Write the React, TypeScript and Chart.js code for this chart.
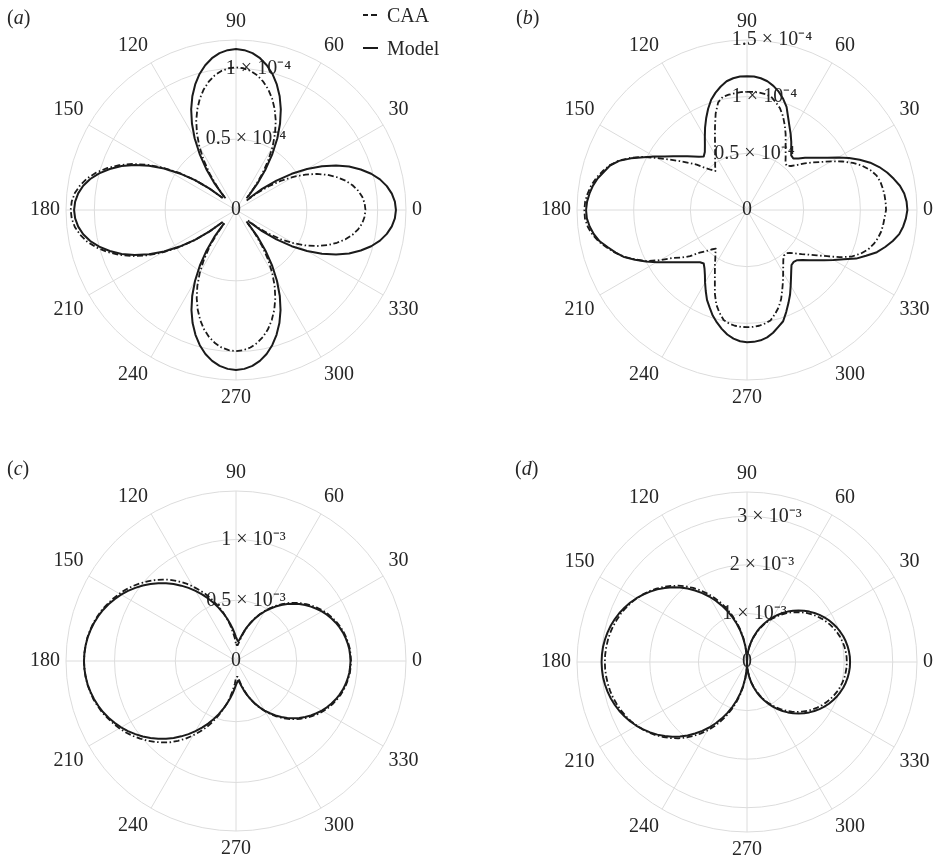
import React, { useEffect, useRef } from 'react';
import { Chart, registerables } from 'chart.js';

Chart.register(...registerables);

// Polar angle (degrees, counter-clockwise from the right) of every sample
const ANGLES = [
  0, 3, 6, 9, 12, 15, 18, 21, 24, 27, 30, 33, 36, 39, 42, 45, 48, 51, 54, 57, 60, 63, 66, 69, 72, 75, 78, 81, 84, 87,
  90, 93, 96, 99, 102, 105, 108, 111, 114, 117, 120, 123, 126, 129, 132, 135, 138, 141, 144, 147, 150, 153, 156, 159, 162, 165, 168, 171, 174, 177,
  180, 183, 186, 189, 192, 195, 198, 201, 204, 207, 210, 213, 216, 219, 222, 225, 228, 231, 234, 237, 240, 243, 246, 249, 252, 255, 258, 261, 264, 267,
  270, 273, 276, 279, 282, 285, 288, 291, 294, 297, 300, 303, 306, 309, 312, 315, 318, 321, 324, 327, 330, 333, 336, 339, 342, 345, 348, 351, 354, 357,
];

// (a) values in units of 1e-4
const A_MODEL = [
  1.129, 1.123, 1.106, 1.078, 1.039, 0.988, 0.926, 0.855, 0.773, 0.681, 0.579, 0.469, 0.353, 0.237, 0.124,
  null,
  0.125, 0.239, 0.356, 0.471, 0.583, 0.685, 0.778, 0.860, 0.932, 0.994, 1.045, 1.085, 1.113, 1.130,
  1.136,
  1.130, 1.113, 1.085, 1.045, 0.994, 0.932, 0.860, 0.778, 0.685, 0.583, 0.471, 0.356, 0.239, 0.125,
  null,
  0.126, 0.240, 0.358, 0.474, 0.586, 0.689, 0.783, 0.865, 0.937, 1.000, 1.052, 1.092, 1.120, 1.137,
  1.143,
  1.137, 1.120, 1.092, 1.052, 1.000, 0.937, 0.865, 0.783, 0.689, 0.586, 0.474, 0.358, 0.240, 0.126,
  null,
  0.124, 0.237, 0.353, 0.469, 0.579, 0.681, 0.773, 0.855, 0.926, 0.988, 1.039, 1.078, 1.106, 1.123,
  1.129,
  1.123, 1.106, 1.078, 1.039, 0.988, 0.926, 0.855, 0.773, 0.681, 0.579, 0.469, 0.353, 0.237, 0.124,
  null,
  0.124, 0.237, 0.353, 0.469, 0.579, 0.681, 0.773, 0.855, 0.926, 0.988, 1.039, 1.078, 1.106, 1.123,
];
const A_CAA = [
  0.914, 0.909, 0.896, 0.873, 0.841, 0.800, 0.749, 0.692, 0.626, 0.551, 0.469, 0.379, 0.286, 0.192, 0.101,
  null,
  0.111, 0.211, 0.315, 0.418, 0.517, 0.607, 0.690, 0.762, 0.826, 0.881, 0.926, 0.962, 0.987, 1.002,
  1.007,
  1.002, 0.987, 0.962, 0.926, 0.881, 0.826, 0.762, 0.690, 0.607, 0.517, 0.418, 0.315, 0.211, 0.111,
  null,
  0.128, 0.245, 0.365, 0.484, 0.599, 0.704, 0.799, 0.883, 0.957, 1.021, 1.074, 1.114, 1.144, 1.161,
  1.167,
  1.161, 1.144, 1.114, 1.074, 1.021, 0.957, 0.883, 0.799, 0.704, 0.599, 0.484, 0.365, 0.245, 0.128,
  null,
  0.110, 0.209, 0.312, 0.413, 0.511, 0.601, 0.682, 0.754, 0.817, 0.872, 0.916, 0.951, 0.976, 0.991,
  0.996,
  0.991, 0.976, 0.951, 0.916, 0.872, 0.817, 0.754, 0.682, 0.601, 0.511, 0.413, 0.312, 0.209, 0.110,
  null,
  0.101, 0.192, 0.286, 0.379, 0.469, 0.551, 0.626, 0.692, 0.749, 0.800, 0.841, 0.873, 0.896, 0.909,
];

// (b) values in units of 1e-4
const B_MODEL = [
  1.415, 1.410, 1.395, 1.366, 1.324, 1.280, 1.227, 1.165, 1.089, 1.010, 0.926, 0.846, 0.784, 0.732, 0.688, 0.642, 0.611, 0.620, 0.664, 0.717, 0.771, 0.826, 0.893, 0.974, 1.032, 1.081, 1.120, 1.150, 1.169, 1.180,
  1.181, 1.180, 1.169, 1.150, 1.114, 1.072, 1.023, 0.957, 0.886, 0.815, 0.744, 0.682, 0.633, 0.607, 0.633, 0.669, 0.709, 0.753, 0.806, 0.868, 0.943, 1.023, 1.120, 1.209, 1.271, 1.306, 1.346, 1.376, 1.397, 1.413,
  1.420, 1.415, 1.396, 1.368, 1.329, 1.271, 1.218, 1.160, 1.081, 1.001, 0.921, 0.846, 0.784, 0.732, 0.688, 0.651, 0.620, 0.607, 0.638, 0.682, 0.740, 0.802, 0.868, 0.921, 0.979, 1.027, 1.072, 1.112, 1.141, 1.160,
  1.167, 1.165, 1.156, 1.138, 1.107, 1.067, 1.032, 0.965, 0.899, 0.837, 0.771, 0.713, 0.664, 0.624, 0.616, 0.626, 0.660, 0.704, 0.753, 0.813, 0.881, 0.957, 1.054, 1.125, 1.205, 1.262, 1.315, 1.360, 1.386, 1.404,
];
const B_CAA = [
  1.227, 1.225, 1.221, 1.213, 1.203, 1.182, 1.143, 1.089, 1.023, 0.943, 0.859, 0.779, 0.713, 0.655, 0.593, 0.549, 0.523, 0.540, 0.580, 0.626, 0.682, 0.751, 0.819, 0.886, 0.943, 0.983, 1.023, 1.035, 1.041, 1.043,
  1.043, 1.042, 1.036, 1.030, 1.021, 0.983, 0.895, 0.788, 0.695, 0.620, 0.562, 0.516, 0.478, 0.443, 0.478, 0.527, 0.598, 0.660, 0.735, 0.819, 0.917, 1.032, 1.129, 1.213, 1.275, 1.320, 1.360, 1.391, 1.413, 1.430,
  1.435, 1.432, 1.413, 1.382, 1.337, 1.280, 1.222, 1.156, 1.076, 0.992, 0.886, 0.775, 0.716, 0.647, 0.562, 0.514, 0.469, 0.438, 0.474, 0.514, 0.567, 0.624, 0.697, 0.791, 0.877, 0.939, 0.992, 1.014, 1.027, 1.033,
  1.034, 1.033, 1.027, 1.014, 0.996, 0.952, 0.903, 0.841, 0.766, 0.700, 0.638, 0.587, 0.545, 0.518, 0.514, 0.536, 0.571, 0.620, 0.669, 0.735, 0.815, 0.917, 1.010, 1.074, 1.125, 1.158, 1.182, 1.200, 1.209, 1.216,
];

// (c) values in units of 1e-3
const C_MODEL = [
  0.943, 0.941, 0.938, 0.931, 0.922, 0.911, 0.897, 0.880, 0.861, 0.840, 0.816, 0.790, 0.762, 0.733, 0.701, 0.666, 0.631, 0.593, 0.554, 0.513, 0.471, 0.428, 0.384, 0.338, 0.293, 0.250, 0.209, 0.176, 0.164, 0.176,
  0.197, 0.230, 0.269, 0.313, 0.360, 0.409, 0.460, 0.511, 0.564, 0.616, 0.667, 0.718, 0.767, 0.816, 0.861, 0.906, 0.948, 0.988, 1.025, 1.061, 1.093, 1.122, 1.149, 1.173, 1.193, 1.211, 1.225, 1.237, 1.245, 1.250,
  1.252, 1.250, 1.245, 1.237, 1.225, 1.211, 1.193, 1.173, 1.149, 1.122, 1.093, 1.061, 1.025, 0.988, 0.948, 0.906, 0.861, 0.816, 0.767, 0.718, 0.667, 0.616, 0.564, 0.511, 0.460, 0.409, 0.360, 0.313, 0.269, 0.230,
  0.197, 0.176, 0.164, 0.176, 0.209, 0.250, 0.293, 0.338, 0.384, 0.428, 0.471, 0.513, 0.554, 0.593, 0.631, 0.666, 0.701, 0.733, 0.762, 0.790, 0.816, 0.840, 0.861, 0.880, 0.897, 0.911, 0.922, 0.931, 0.938, 0.941,
];
const C_CAA = [
  0.947, 0.945, 0.943, 0.936, 0.928, 0.918, 0.905, 0.889, 0.871, 0.851, 0.828, 0.802, 0.774, 0.744, 0.712, 0.678, 0.642, 0.603, 0.563, 0.520, 0.477, 0.433, 0.387, 0.339, 0.292, 0.243, 0.197, 0.156, 0.131, 0.131,
  0.139, 0.189, 0.236, 0.297, 0.356, 0.417, 0.476, 0.536, 0.597, 0.652, 0.708, 0.763, 0.812, 0.861, 0.902, 0.943, 0.980, 1.016, 1.050, 1.081, 1.109, 1.134, 1.157, 1.181, 1.198, 1.216, 1.228, 1.239, 1.245, 1.250,
  1.252, 1.250, 1.245, 1.239, 1.228, 1.216, 1.198, 1.181, 1.157, 1.134, 1.109, 1.081, 1.050, 1.016, 0.980, 0.943, 0.902, 0.861, 0.812, 0.763, 0.708, 0.652, 0.597, 0.536, 0.476, 0.417, 0.356, 0.297, 0.236, 0.189,
  0.139, 0.131, 0.131, 0.156, 0.197, 0.243, 0.292, 0.339, 0.387, 0.433, 0.477, 0.520, 0.563, 0.603, 0.642, 0.678, 0.712, 0.744, 0.774, 0.802, 0.828, 0.851, 0.871, 0.889, 0.905, 0.918, 0.928, 0.936, 0.943, 0.945,
];

// (d) values in units of 1e-3
const D_MODEL = [
  2.122, 2.120, 2.110, 2.096, 2.076, 2.051, 2.018, 1.982, 1.939, 1.892, 1.839, 1.780, 1.716, 1.649, 1.578, 1.500, 1.420, 1.335, 1.247, 1.155, 1.061, 0.963, 0.863, 0.761, 0.655, 0.549, 0.441, 0.333, 0.222, 0.110,
  0, 0.165, 0.331, 0.492, 0.655, 0.814, 0.969, 1.122, 1.271, 1.416, 1.557, 1.692, 1.820, 1.945, 2.061, 2.173, 2.278, 2.376, 2.465, 2.549, 2.627, 2.696, 2.757, 2.814, 2.861, 2.902, 2.935, 2.961, 2.980, 2.990,
  2.994, 2.990, 2.980, 2.961, 2.935, 2.902, 2.861, 2.814, 2.757, 2.696, 2.627, 2.549, 2.465, 2.376, 2.278, 2.173, 2.061, 1.945, 1.820, 1.692, 1.557, 1.416, 1.271, 1.122, 0.969, 0.814, 0.655, 0.492, 0.331, 0.165,
  0, 0.110, 0.222, 0.333, 0.441, 0.549, 0.655, 0.761, 0.863, 0.963, 1.061, 1.155, 1.247, 1.335, 1.420, 1.500, 1.578, 1.649, 1.716, 1.780, 1.839, 1.892, 1.939, 1.982, 2.018, 2.051, 2.076, 2.096, 2.110, 2.120,
];
const D_CAA = [
  2.055, 2.053, 2.043, 2.031, 2.010, 1.986, 1.955, 1.918, 1.878, 1.831, 1.780, 1.724, 1.663, 1.598, 1.527, 1.453, 1.376, 1.294, 1.208, 1.118, 1.029, 0.933, 0.837, 0.737, 0.635, 0.533, 0.427, 0.322, 0.214, 0.108,
  0, 0.176, 0.353, 0.527, 0.698, 0.865, 1.029, 1.186, 1.339, 1.486, 1.624, 1.759, 1.884, 2.002, 2.114, 2.216, 2.312, 2.400, 2.482, 2.555, 2.620, 2.682, 2.733, 2.780, 2.818, 2.853, 2.880, 2.900, 2.914, 2.924,
  2.927, 2.924, 2.914, 2.900, 2.880, 2.853, 2.818, 2.780, 2.733, 2.682, 2.620, 2.555, 2.482, 2.400, 2.312, 2.216, 2.114, 2.002, 1.884, 1.759, 1.624, 1.486, 1.339, 1.186, 1.029, 0.865, 0.698, 0.527, 0.353, 0.176,
  0, 0.108, 0.214, 0.322, 0.427, 0.533, 0.635, 0.737, 0.837, 0.933, 1.029, 1.118, 1.208, 1.294, 1.376, 1.453, 1.527, 1.598, 1.663, 1.724, 1.780, 1.831, 1.878, 1.918, 1.955, 1.986, 2.010, 2.031, 2.043, 2.053,
];

// Radial ticks and their labels
const A_TICKS = [0, 0.5, 1, 1.2];
const A_TICK_TEXT = ['0', '0.5 × 10⁻⁴', '1 × 10⁻⁴', ''];
const B_TICKS = [0, 0.5, 1, 1.5];
const B_TICK_TEXT = ['0', '0.5 × 10⁻⁴', '1 × 10⁻⁴', '1.5 × 10⁻⁴'];
const C_TICKS = [0, 0.5, 1, 1.4];
const C_TICK_TEXT = ['0', '0.5 × 10⁻³', '1 × 10⁻³', ''];
const D_TICKS = [0, 1, 2, 3, 3.5];
const D_TICK_TEXT = ['0', '1 × 10⁻³', '2 × 10⁻³', '3 × 10⁻³', ''];

const SERIES_NAMES = ['CAA', 'Model'];
const PANEL_TAGS = ['a', 'b', 'c', 'd'];

const SERIF = "'Liberation Serif', 'Times New Roman', Times, serif";
const INK = '#1b1b1b';
const TEXT = '#262626';
const GRID = '#dcdcdc';
const CAA_DASH = [6, 2.5, 1.5, 2.5];

const centerTickPlugin = {
  id: 'centerTick',
  afterDraw(chart: any, _args: any, opts: any) {
    const s = chart.scales.r;
    if (!s || !opts || !opts.text) return;
    const ctx = chart.ctx;
    ctx.save();
    ctx.font = `20px ${SERIF}`;
    ctx.fillStyle = TEXT;
    ctx.textAlign = 'center';
    ctx.textBaseline = 'middle';
    ctx.fillText(opts.text, s.xCenter, s.yCenter);
    ctx.restore();
  },
};

type PanelProps = {
  left: number;
  top: number;
  caa: (number | null)[];
  model: (number | null)[];
  ticks: number[];
  tickText: string[];
};

function PolarPanel({ left, top, caa, model, ticks, tickText }: PanelProps) {
  const ref = useRef<HTMLCanvasElement>(null);
  useEffect(() => {
    const step = ANGLES[1] - ANGLES[0];
    const n = ANGLES.length;
    // clockwise order starting from the top (90 degrees)
    const order = Array.from({ length: n }, (_, k) => ANGLES.indexOf((((90 - k * step) % 360) + 360) % 360));
    const labels = order.map((i) => ANGLES[i]);
    const max = ticks[ticks.length - 1];
    const chart = new Chart(ref.current as HTMLCanvasElement, {
      type: 'radar',
      data: {
        labels,
        datasets: [
          {
            label: SERIES_NAMES[1],
            data: order.map((i) => model[i]),
            borderColor: INK,
            borderWidth: 2,
            fill: false,
            pointRadius: 0,
            pointHoverRadius: 0,
            spanGaps: false,
            tension: 0,
            borderJoinStyle: 'round',
          },
          {
            label: SERIES_NAMES[0],
            data: order.map((i) => caa[i]),
            borderColor: INK,
            borderWidth: 1.8,
            borderDash: CAA_DASH,
            fill: false,
            pointRadius: 0,
            pointHoverRadius: 0,
            spanGaps: false,
            tension: 0,
            borderJoinStyle: 'round',
          },
        ],
      } as any,
      options: {
        responsive: false,
        animation: false,
        devicePixelRatio: 1,
        events: [],
        layout: { padding: 0 },
        plugins: {
          legend: { display: false },
          tooltip: { enabled: false },
          centerTick: { text: tickText[0] },
        },
        scales: {
          r: {
            min: 0,
            max,
            startAngle: 0,
            afterBuildTicks: (s: any) => {
              s.ticks = ticks.map((v) => ({ value: v }));
            },
            grid: { circular: true, color: GRID, lineWidth: 1 },
            angleLines: {
              display: true,
              color: GRID,
              lineWidth: (c: any) => (c.label ? 1 : 0),
            },
            pointLabels: {
              display: true,
              padding: -4,
              color: TEXT,
              font: { family: SERIF, size: 20 },
              callback: (l: any) => (Number(l) % 30 === 0 ? String(l) : ''),
            },
            ticks: {
              display: true,
              showLabelBackdrop: false,
              backdropPadding: 0,
              color: TEXT,
              font: { family: SERIF, size: 20 },
              callback: (v: any, i: number) => {
                const t = tickText[i] || '';
                if (!t) return '';
                const rPx = (170 * Number(v)) / max;
                return ' '.repeat(Math.round(0.06 * rPx)) + t;
              },
            },
          },
        },
      } as any,
      plugins: [centerTickPlugin as any],
    });
    return () => chart.destroy();
  }, []);
  return (
    <canvas
      ref={ref}
      width={500}
      height={400}
      style={{ position: 'absolute', left, top, width: 500, height: 400, display: 'block' }}
    />
  );
}

function Tag({ left, top, tag }: { left: number; top: number; tag: string }) {
  return (
    <div style={{ position: 'absolute', left, top, font: `20px ${SERIF}`, lineHeight: '24px', color: TEXT }}>
      (<i>{tag}</i>)
    </div>
  );
}

export default function App() {
  return (
    <div
      style={{
        position: 'fixed',
        left: 0,
        top: 0,
        width: 937,
        height: 862,
        overflow: 'hidden',
        background: '#ffffff',
      }}
    >
      <PolarPanel left={-14} top={10} caa={A_CAA} model={A_MODEL} ticks={A_TICKS} tickText={A_TICK_TEXT} />
      <PolarPanel left={497} top={10} caa={B_CAA} model={B_MODEL} ticks={B_TICKS} tickText={B_TICK_TEXT} />
      <PolarPanel left={-14} top={461} caa={C_CAA} model={C_MODEL} ticks={C_TICKS} tickText={C_TICK_TEXT} />
      <PolarPanel left={497} top={462} caa={D_CAA} model={D_MODEL} ticks={D_TICKS} tickText={D_TICK_TEXT} />

      <Tag left={7} top={5} tag={PANEL_TAGS[0]} />
      <Tag left={516} top={5} tag={PANEL_TAGS[1]} />
      <Tag left={7} top={456} tag={PANEL_TAGS[2]} />
      <Tag left={515} top={456} tag={PANEL_TAGS[3]} />

      <div style={{ position: 'absolute', left: 363, top: 3, font: `20px ${SERIF}`, color: TEXT }}>
        <div style={{ display: 'flex', alignItems: 'center', height: 24 }}>
          <span
            style={{
              width: 14,
              height: 2,
              background: `repeating-linear-gradient(90deg, ${INK} 0px, ${INK} 5.5px, transparent 5.5px, transparent 8.5px)`,
            }}
          />
          <span style={{ marginLeft: 10, lineHeight: '24px' }}>{SERIES_NAMES[0]}</span>
        </div>
        <div style={{ display: 'flex', alignItems: 'center', height: 24, marginTop: 9 }}>
          <span style={{ width: 15, height: 2, background: INK }} />
          <span style={{ marginLeft: 9, lineHeight: '24px' }}>{SERIES_NAMES[1]}</span>
        </div>
      </div>
    </div>
  );
}
